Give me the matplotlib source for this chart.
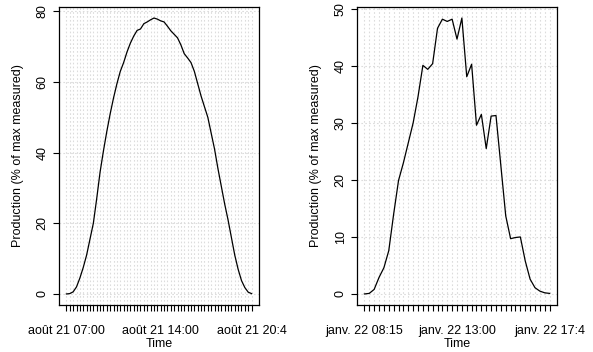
import numpy as np
import matplotlib
matplotlib.use("Agg")
import matplotlib.pyplot as plt

plt.rcParams['font.family'] = ['Liberation Sans', 'DejaVu Sans']

# Production, 15-minute steps
aug_prod = [0, 0.1, 0.6, 2, 4.5, 7.5, 11, 15.5, 20, 27, 34.5, 40.5, 46, 51,
            55.5, 59.5, 63, 65.5, 68.5, 71, 73, 74.6, 75, 76.5, 77, 77.6,
            78.1, 77.8, 77.3, 77, 75.8, 74.5, 73.5, 72.5, 70.5, 68, 66.8,
            65.5, 63, 59.5, 56, 53, 50, 45.5, 41, 35.5, 30.5, 25.5, 21, 16,
            11, 7, 3.8, 1.8, 0.5, 0.1]
jan_prod = [0, 0.1, 0.8, 2.9, 4.6, 7.6, 14, 19.9, 23, 26.5, 30, 34.6, 40.1,
            39.4, 40.4, 46.6, 48.2, 47.8, 48.2, 44.7, 48.4, 38.1, 40.3, 29.6,
            31.5, 25.5, 31.2, 31.3, 22.5, 13.7, 9.7, 9.9, 10, 5.8, 2.6, 1.1,
            0.5, 0.2, 0.1]

# only a few tick labels are shown
aug_labels = {0: "août 21 07:00", 28: "août 21 14:00", 55: "août 21 20:4"}
jan_labels = {0: "janv. 22 08:15", 19: "janv. 22 13:00", 38: "janv. 22 17:4"}

aug_yticks = [0, 20, 40, 60, 80]
jan_yticks = [0, 10, 20, 30, 40, 50]


def panel(ax, values, labels, yticks):
    x = np.arange(len(values))
    ax.plot(x, values, color='black', lw=0.9)

    ax.set_xticks(x)
    ax.set_xticklabels([labels.get(i, "") for i in x])
    ax.set_yticks(yticks)
    ax.set_yticklabels([str(v) for v in yticks], rotation=90, va='center')

    ax.grid(True, color='#dcdcdc', linestyle=(0, (1.5, 2)), lw=0.8)

    ax.tick_params(axis='x', length=4.5, width=0.8, pad=10, labelsize=9)
    ax.tick_params(axis='y', length=4.5, width=0.8, pad=3, labelsize=9)
    for s in ax.spines.values():
        s.set_linewidth(0.9)

    lo, hi = min(values), max(values)
    d = (hi - lo) * 0.04
    ax.set_ylim(lo - d, hi + d)
    dx = (len(values) - 1) * 0.04
    ax.set_xlim(-dx, len(values) - 1 + dx)

    ax.set_xlabel("Time", fontsize=9, va='center')
    ax.xaxis.set_label_coords(0.5, -39 / 298)
    ax.set_ylabel("Production (% of max measured)", fontsize=9, va='center')
    ax.yaxis.set_label_coords(-41 / 200, 0.5)


fig = plt.figure(figsize=(5.93, 3.52), dpi=100)
ax1 = fig.add_axes([59 / 593, 47 / 352, 200 / 593, 298 / 352])
ax2 = fig.add_axes([357 / 593, 47 / 352, 200 / 593, 298 / 352])

panel(ax1, aug_prod, aug_labels, aug_yticks)
panel(ax2, jan_prod, jan_labels, jan_yticks)

fig.savefig("out.png", dpi=100)
